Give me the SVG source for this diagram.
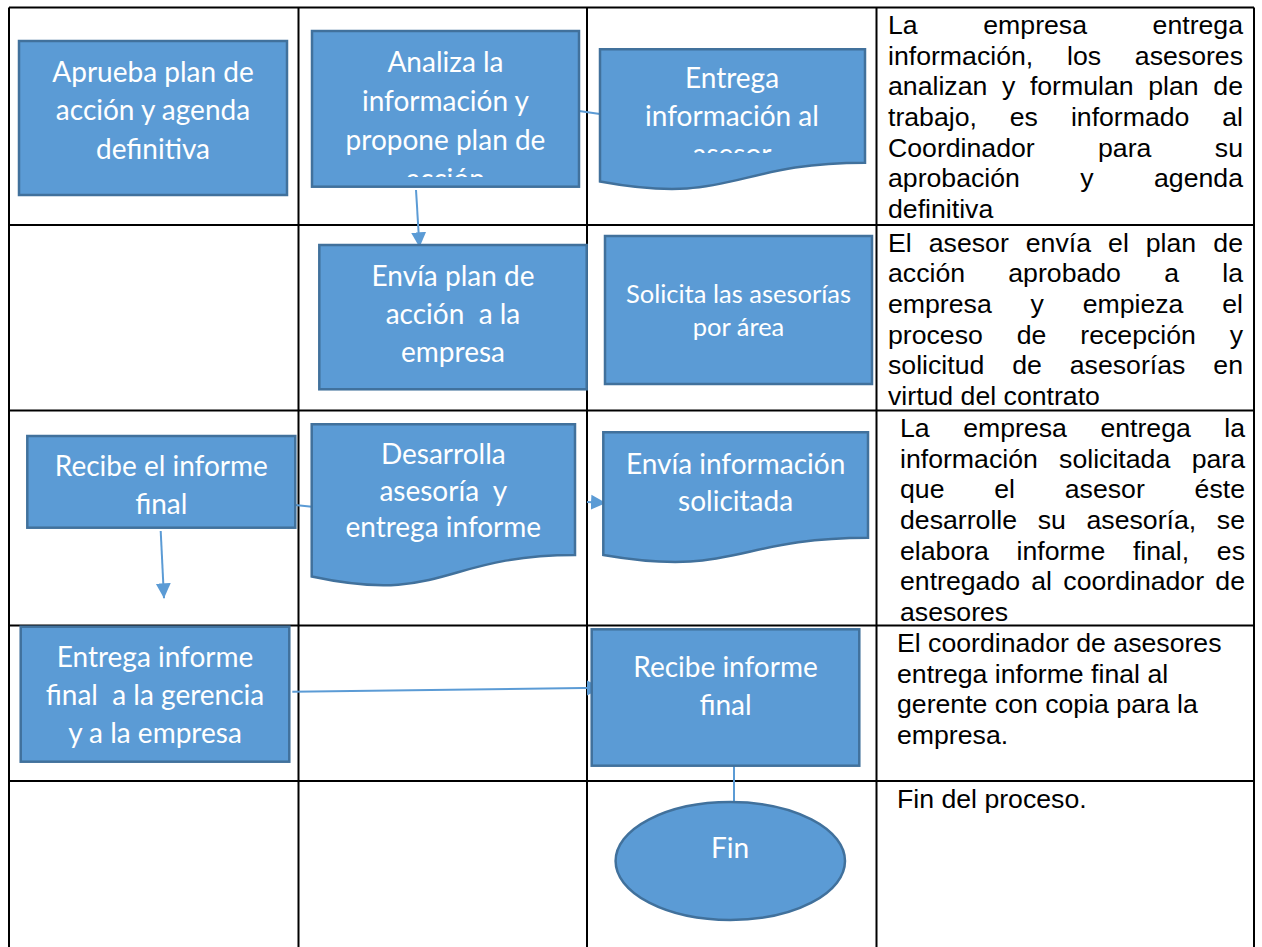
<svg xmlns="http://www.w3.org/2000/svg" width="1262" height="947" viewBox="0 0 1262 947">
<style>
.grid{stroke:#000;stroke-width:2;fill:none}
.shape{fill:#5B9BD5;stroke:#41719C;stroke-width:2.5}
.conn{stroke:#5B9BD5;stroke-width:2;fill:none}
.bt{font-family:Lato,"Open Sans",sans-serif;font-size:28px;fill:#fff;text-anchor:middle;white-space:pre}
.bs{font-size:25.5px}
.rt{font-family:"Liberation Sans",Arial,sans-serif;font-size:26.67px;fill:#000;white-space:pre}
.e{text-anchor:end}
</style>
<defs>
<marker id="ah" markerUnits="userSpaceOnUse" markerWidth="16" markerHeight="16" viewBox="0 0 16 16" refX="15" refY="8" orient="auto">
<path d="M0,0.5 L15,8 L0,15.5 Z" fill="#5B9BD5"/>
</marker>
<clipPath id="clipAnaliza"><rect x="312" y="31" width="267" height="146"/></clipPath>
<clipPath id="clipEntrega"><rect x="600" y="49" width="265" height="104"/></clipPath>
</defs>
<rect width="1262" height="947" fill="#fff"/>
<g id="table">
<path class="grid" d="M9,7.5 H1254 M9,225 H1254 M9,410.5 H1254 M9,625.5 H1254 M9,781 H1254 M9,7.5 V950 M298.5,7.5 V950 M587,7.5 V950 M876.5,7.5 V950 M1254,7.5 V950"/>
</g>
<g id="connectors">
<line class="conn" x1="579" y1="111" x2="600" y2="114"/>
<line class="conn" x1="416" y1="190" x2="419.5" y2="247.3" marker-end="url(#ah)"/>
<line class="conn" x1="295" y1="505" x2="312" y2="506.7"/>
<line class="conn" x1="587" y1="502" x2="606" y2="503" marker-end="url(#ah)"/>
<line class="conn" x1="160.7" y1="531" x2="164" y2="598.3" marker-end="url(#ah)"/>
<line class="conn" x1="292.3" y1="691.7" x2="602" y2="687.7" marker-end="url(#ah)"/>
<line class="conn" x1="734" y1="765.7" x2="734" y2="802"/>
</g>
<g id="n-aprueba">
<rect class="shape" x="19" y="41" width="268" height="154"/>
<text class="bt" x="153"><tspan x="153" y="81.5">Aprueba plan de</tspan><tspan x="153" y="120">acción y agenda</tspan><tspan x="153" y="158.5">definitiva</tspan></text>
</g>
<g id="n-analiza">
<rect class="shape" x="312" y="31" width="267" height="155.7"/>
<text class="bt" clip-path="url(#clipAnaliza)"><tspan x="445.5" y="72">Analiza la</tspan><tspan x="445.5" y="111">información y</tspan><tspan x="445.5" y="150">propone plan de</tspan><tspan x="445.5" y="189">acción</tspan></text>
</g>
<g id="n-entrega-info">
<path class="shape" d="M600,49.3 H865 V162.7 C732.5,162.7 732.5,205.9 600,181.4 Z"/>
<text class="bt" clip-path="url(#clipEntrega)"><tspan x="732" y="88">Entrega</tspan><tspan x="732" y="126">información al</tspan><tspan x="732" y="164">asesor</tspan></text>
</g>
<g id="n-envia-plan">
<rect class="shape" x="319.3" y="245" width="267.4" height="144.3"/>
<text class="bt"><tspan x="453" y="286">Envía plan de</tspan><tspan x="453" y="324">acción  a la</tspan><tspan x="453" y="362">empresa</tspan></text>
</g>
<g id="n-solicita">
<rect class="shape" x="605" y="236" width="267" height="148"/>
<text class="bt bs"><tspan x="738.5" y="303">Solicita las asesorías</tspan><tspan x="738.5" y="336">por área</tspan></text>
</g>
<g id="n-recibe-el-informe">
<rect class="shape" x="27.3" y="436" width="268" height="91.7"/>
<text class="bt"><tspan x="161.3" y="476">Recibe el informe</tspan><tspan x="161.3" y="514.3">final</tspan></text>
</g>
<g id="n-desarrolla">
<path class="shape" d="M311.7,424.3 H575 V555 C443.35,555 443.35,604.8 311.7,576.5 Z"/>
<text class="bt"><tspan x="443.3" y="464">Desarrolla</tspan><tspan x="443.3" y="500.5">asesoría  y</tspan><tspan x="443.3" y="537">entrega informe</tspan></text>
</g>
<g id="n-envia-info">
<path class="shape" d="M603.3,432.3 H868 V537.7 C735.65,537.7 735.65,577.8 603.3,555 Z"/>
<text class="bt"><tspan x="735.6" y="474">Envía información</tspan><tspan x="735.6" y="511">solicitada</tspan></text>
</g>
<g id="n-entrega-final">
<rect class="shape" x="20.7" y="626.7" width="268.6" height="135"/>
<text class="bt"><tspan x="155" y="666.7">Entrega informe</tspan><tspan x="155" y="704.7">final  a la gerencia</tspan><tspan x="155" y="742.7">y a la empresa</tspan></text>
</g>
<g id="n-recibe-final">
<rect class="shape" x="591.7" y="629.3" width="267.6" height="136.4"/>
<text class="bt"><tspan x="725.5" y="677">Recibe informe</tspan><tspan x="725.5" y="715">final</tspan></text>
</g>
<g id="n-fin">
<ellipse class="shape" cx="730.3" cy="861" rx="114.7" ry="59"/>
<text class="bt" x="730" y="858">Fin</text>
</g>
<g id="descriptions">
<text class="rt"><tspan x="888" y="34">La</tspan><tspan x="983.3" y="34">empresa</tspan><tspan class="e" x="1243" y="34">entrega</tspan></text>
<text class="rt"><tspan x="888" y="64.7">información,</tspan><tspan x="1067" y="64.7">los</tspan><tspan class="e" x="1243" y="64.7">asesores</tspan></text>
<text class="rt"><tspan x="888" y="95.3">analizan</tspan><tspan x="1002" y="95.3">y</tspan><tspan x="1029.9" y="95.3">formulan</tspan><tspan x="1148.3" y="95.3">plan</tspan><tspan class="e" x="1243" y="95.3">de</tspan></text>
<text class="rt"><tspan x="888" y="126">trabajo,</tspan><tspan x="1009.8" y="126">es</tspan><tspan x="1070.9" y="126">informado</tspan><tspan class="e" x="1243" y="126">al</tspan></text>
<text class="rt"><tspan x="888" y="156.7">Coordinador</tspan><tspan x="1098" y="156.7">para</tspan><tspan class="e" x="1243" y="156.7">su</tspan></text>
<text class="rt"><tspan x="888" y="187.3">aprobación</tspan><tspan x="1080.3" y="187.3">y</tspan><tspan class="e" x="1243" y="187.3">agenda</tspan></text>
<text class="rt" x="888" y="218">definitiva</text>

<text class="rt"><tspan x="888" y="251.5">El</tspan><tspan x="928.8" y="251.5">asesor</tspan><tspan x="1025.8" y="251.5">envía</tspan><tspan x="1108.1" y="251.5">el</tspan><tspan x="1145.8" y="251.5">plan</tspan><tspan class="e" x="1243" y="251.5">de</tspan></text>
<text class="rt"><tspan x="888" y="282.2">acción</tspan><tspan x="1008.3" y="282.2">aprobado</tspan><tspan x="1164.3" y="282.2">a</tspan><tspan class="e" x="1243" y="282.2">la</tspan></text>
<text class="rt"><tspan x="888" y="312.8">empresa</tspan><tspan x="1030.5" y="312.8">y</tspan><tspan x="1082.7" y="312.8">empieza</tspan><tspan class="e" x="1243" y="312.8">el</tspan></text>
<text class="rt"><tspan x="888" y="343.5">proceso</tspan><tspan x="1016.7" y="343.5">de</tspan><tspan x="1080.3" y="343.5">recepción</tspan><tspan class="e" x="1243" y="343.5">y</tspan></text>
<text class="rt"><tspan x="888" y="374.2">solicitud</tspan><tspan x="1012.2" y="374.2">de</tspan><tspan x="1069.8" y="374.2">asesorías</tspan><tspan class="e" x="1243" y="374.2">en</tspan></text>
<text class="rt" x="888" y="404.8">virtud del contrato</text>

<text class="rt"><tspan x="900" y="437">La</tspan><tspan x="963.2" y="437">empresa</tspan><tspan x="1100.4" y="437">entrega</tspan><tspan class="e" x="1245" y="437">la</tspan></text>
<text class="rt"><tspan x="900" y="467.7">información</tspan><tspan x="1059.1" y="467.7">solicitada</tspan><tspan class="e" x="1245" y="467.7">para</tspan></text>
<text class="rt"><tspan x="900" y="498.3">que</tspan><tspan x="994.3" y="498.3">el</tspan><tspan x="1064.8" y="498.3">asesor</tspan><tspan class="e" x="1245" y="498.3">éste</tspan></text>
<text class="rt"><tspan x="900" y="529">desarrolle</tspan><tspan x="1037.7" y="529">su</tspan><tspan x="1086.5" y="529">asesoría,</tspan><tspan class="e" x="1245" y="529">se</tspan></text>
<text class="rt"><tspan x="900" y="559.7">elabora</tspan><tspan x="1016.5" y="559.7">informe</tspan><tspan x="1132.9" y="559.7">final,</tspan><tspan class="e" x="1245" y="559.7">es</tspan></text>
<text class="rt"><tspan x="900" y="590.3">entregado</tspan><tspan x="1031.3" y="590.3">al</tspan><tspan x="1063.3" y="590.3">coordinador</tspan><tspan class="e" x="1245" y="590.3">de</tspan></text>
<text class="rt" x="900" y="621">asesores</text>

<text class="rt"><tspan x="897" y="652">El coordinador de asesores</tspan><tspan x="897" y="682.7">entrega informe final al</tspan><tspan x="897" y="713.3">gerente con copia para la</tspan><tspan x="897" y="744">empresa.</tspan></text>
<text class="rt" x="897" y="807.5">Fin del proceso.</text>
</g>
</svg>
